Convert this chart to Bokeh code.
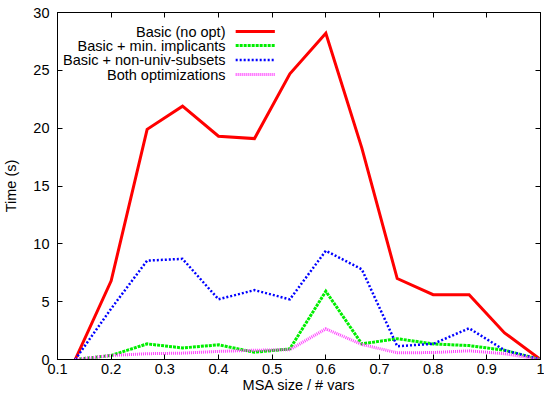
from bokeh.plotting import figure
from bokeh.models import Range1d, FixedTicker, LinearAxis, Label, Arrow, CustomLabelingPolicy
from bokeh.embed import file_html
from bokeh.resources import INLINE

# ---- data ----
x_vals = [0.133, 0.2, 0.267, 0.333, 0.4, 0.467, 0.533, 0.6, 0.667, 0.733, 0.8, 0.867, 0.933, 1.0]
basic = [0, 6.8, 19.9, 21.9, 19.3, 19.1, 24.7, 28.2, 18.3, 7.0, 5.6, 5.6, 2.3, 0]
min_impl = [0, 0.35, 1.35, 1.0, 1.27, 0.63, 0.92, 5.9, 1.35, 1.8, 1.35, 1.2, 0.8, 0]
non_univ = [0, 4.4, 8.55, 8.7, 5.2, 6.0, 5.2, 9.4, 7.8, 1.15, 1.35, 2.7, 0.8, 0]
both = [0, 0.35, 0.5, 0.55, 0.7, 0.8, 0.85, 2.65, 1.3, 0.58, 0.6, 0.75, 0.5, 0]

series_names = ["Basic (no opt)", "Basic + min. implicants",
                "Basic + non-univ-subsets", "Both optimizations"]

x_ticks = [0.1, 0.2, 0.3, 0.4, 0.5, 0.6, 0.7, 0.8, 0.9, 1.0]
x_tick_labels = ["0.1", "0.2", "0.3", "0.4", "0.5", "0.6", "0.7", "0.8", "0.9", "1"]
y_ticks = [0, 5, 10, 15, 20, 25, 30]

FONT = "Liberation Sans"
FS = "14.5px"

p = figure(width=544, height=395, x_range=Range1d(0.1, 1.0), y_range=Range1d(0, 30),
           output_backend="svg", toolbar_location=None,
           min_border_left=55, min_border_right=4, min_border_top=12, min_border_bottom=0)
p.xgrid.visible = False
p.ygrid.visible = False
p.outline_line_color = "black"
p.outline_line_width = 1
p.background_fill_color = "white"
p.border_fill_color = "white"


def style_axis(ax, labels=True):
    ax.major_tick_in = 5
    ax.major_tick_out = 0
    ax.minor_tick_in = 0
    ax.minor_tick_out = 0
    ax.axis_line_color = "black"
    ax.major_tick_line_color = "black"
    ax.major_label_text_font = FONT
    ax.major_label_text_color = "black"
    ax.axis_label_text_font = FONT
    ax.axis_label_text_font_style = "normal"
    ax.axis_label_text_font_size = FS
    ax.axis_label_text_color = "black"
    if labels:
        ax.major_label_text_font_size = FS
    else:
        ax.major_label_text_font_size = "1px"
        ax.major_label_standoff = 0
        ax.major_label_policy = CustomLabelingPolicy(code="return []")


xa = p.xaxis[0]
xa.ticker = FixedTicker(ticks=x_ticks)
xa.major_label_overrides = dict(zip(x_ticks, x_tick_labels))
xa.axis_label = "MSA size / # vars"
style_axis(xa)
xa.major_label_standoff = 4
xa.axis_label_standoff = 0

ya = p.yaxis[0]
ya.ticker = FixedTicker(ticks=y_ticks)
ya.axis_label = "Time (s)"
style_axis(ya)
ya.major_label_standoff = 8
ya.axis_label_standoff = 11

top = LinearAxis(ticker=FixedTicker(ticks=x_ticks))
style_axis(top, labels=False)
p.add_layout(top, "above")
right = LinearAxis(ticker=FixedTicker(ticks=y_ticks))
style_axis(right, labels=False)
p.add_layout(right, "right")

styles = [
    dict(color="#ff0000", width=3, dash="solid"),
    dict(color="#00ee00", width=3, dash="3 1"),
    dict(color="#0000ff", width=2.5, dash="2 2"),
    dict(color="#ff40ff", width=3, dash="1 1"),
]
all_series = [basic, min_impl, non_univ, both]

for ys, st in zip(all_series, styles):
    p.line(x_vals, ys, line_color=st["color"], line_width=st["width"],
           line_dash=st["dash"], line_join="miter")

# gnuplot-style key: text right-aligned, sample on the right
key_text_x = 0.413
key_line_x0 = 0.432
key_line_x1 = 0.505
key_rows_y = [28.35, 27.14, 25.89, 24.63]
for name, st, ky in zip(series_names, styles, key_rows_y):
    p.add_layout(Label(x=key_text_x, y=ky, text=name, text_align="right",
                       text_baseline="middle", text_font=FONT,
                       text_font_size=FS, text_color="black"))
    p.add_layout(Arrow(end=None, x_start=key_line_x0, y_start=ky, x_end=key_line_x1, y_end=ky,
                       line_color=st["color"], line_width=st["width"], line_dash=st["dash"]))

open("out.html", "w").write(file_html(p, INLINE))
